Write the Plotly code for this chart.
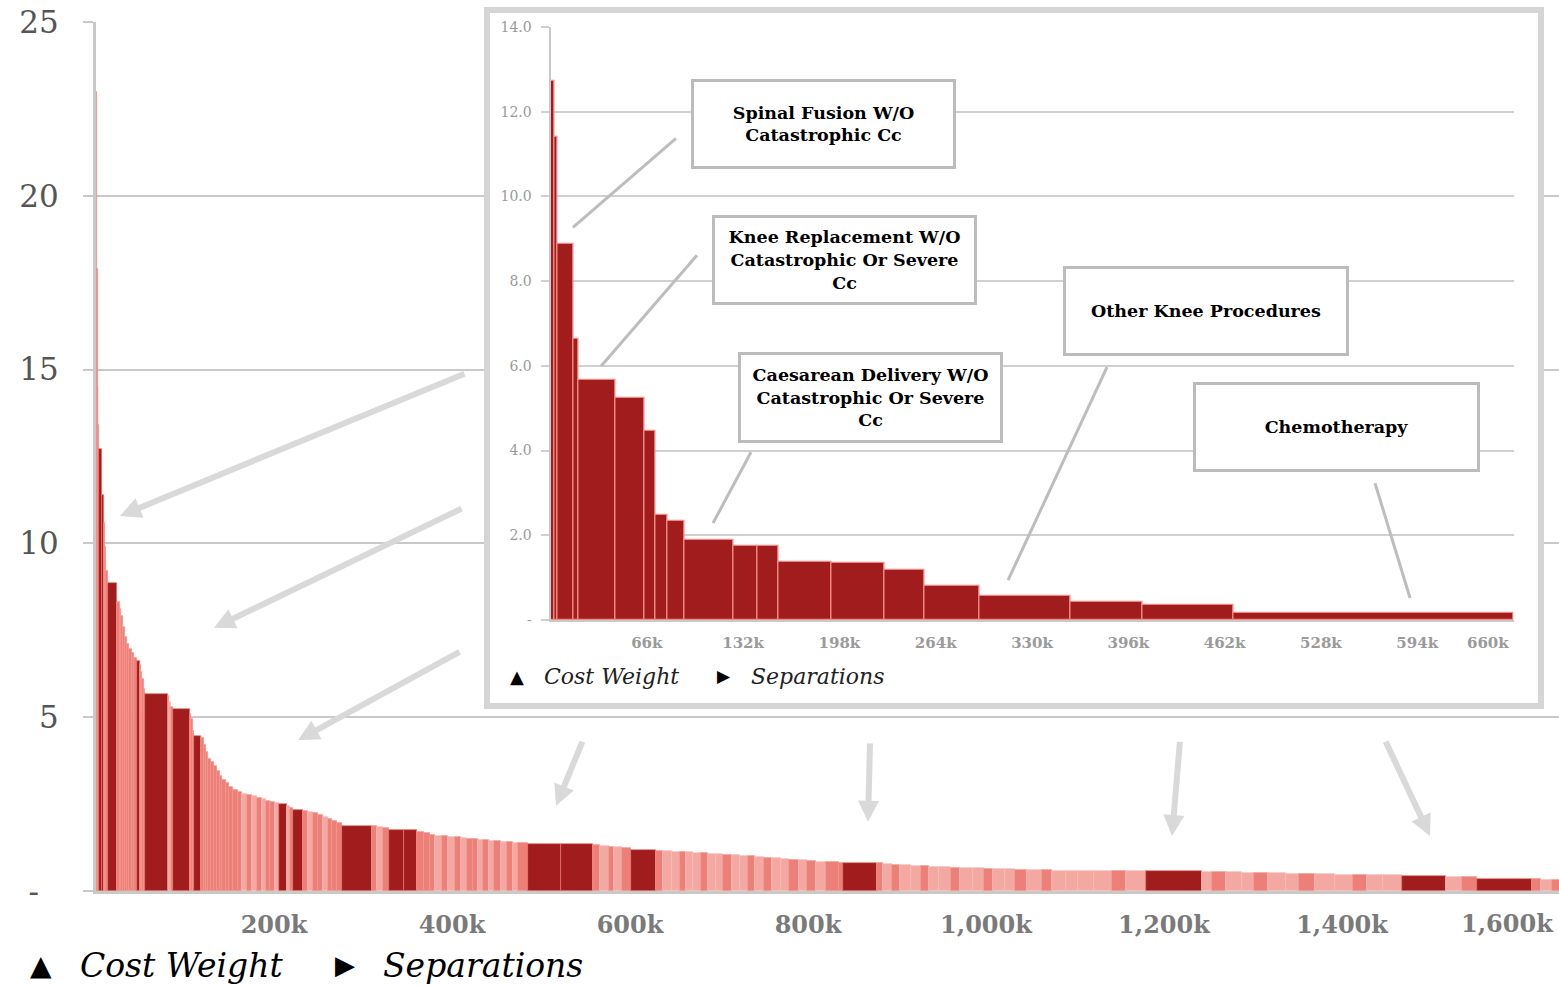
import numpy as np
import plotly.graph_objects as go

# ---------------- DATA ----------------
# DRGs sorted by cost weight; separations in thousands; group: H = highlighted, S = salmon, P = pink
main_cost_weight = [
    23.0, 17.9, 14.5, 13.4, 12.72, 11.4, 10.6, 9.9, 9.2, 8.87,
    8.3, 8.1, 7.9, 7.6, 7.3, 7.1, 6.95, 6.85, 6.7, 6.63,
    6.5, 6.3, 6.1, 5.8, 5.66,
    5.6, 5.45, 5.3, 5.25,
    5.1, 4.95, 4.6, 4.47,
    4.4, 4.2, 4.0, 3.8, 3.7, 3.6, 3.45, 3.3, 3.2, 3.1, 3.0, 2.92, 2.85, 2.8, 2.76, 2.72, 2.68, 2.64, 2.6, 2.56, 2.53,
    2.49,
    2.45, 2.4, 2.34,
    2.3, 2.27, 2.24, 2.2, 2.14, 2.08, 2.02, 1.96, 1.88,
    1.87, 1.85, 1.8, 1.75, 1.75,
    1.7, 1.66, 1.62, 1.58, 1.57, 1.55, 1.54, 1.52, 1.5, 1.49, 1.47, 1.46, 1.44, 1.43, 1.42, 1.4, 1.39, 1.38,
    1.36, 1.34,
    1.32, 1.3, 1.28, 1.26, 1.23, 1.18,
    1.15, 1.14, 1.13, 1.12, 1.11, 1.1, 1.08, 1.07, 1.06, 1.05, 1.03, 1.01, 1.0, 0.98, 0.96, 0.94, 0.92, 0.9, 0.88, 0.86, 0.84, 0.83, 0.82,
    0.81,
    0.8, 0.77, 0.75, 0.74, 0.73, 0.71, 0.7, 0.69, 0.67, 0.66, 0.65, 0.64, 0.63, 0.62, 0.61, 0.6, 0.59, 0.585, 0.58, 0.58, 0.575, 0.575, 0.57,
    0.57,
    0.55, 0.545, 0.54, 0.53, 0.52, 0.51, 0.5, 0.49, 0.48, 0.47, 0.46, 0.455, 0.45,
    0.43,
    0.41, 0.4, 0.35,
    0.34, 0.33, 0.32, 0.3, 0.28, 0.25, 0.2, 0.17,
]
main_separations_k = [
    0.8, 0.9, 0.9, 0.9, 3.0, 2.1, 1.5, 1.5, 1.5, 10.8,
    2.5, 2.0, 1.8, 2.0, 2.2, 2.5, 3.0, 2.8, 3.0, 3.3,
    1.6, 1.5, 1.5, 1.5, 25.5,
    1.8, 2.0, 1.8, 19.5,
    1.5, 1.7, 1.5, 7.6,
    3.0, 2.5, 2.5, 3.0, 3.5, 3.5, 3.0, 3.0, 3.5, 4.0, 4.5, 5.0, 5.0, 6.0, 5.0, 5.5, 6.0, 4.5, 5.0, 5.6, 4.0,
    8.7,
    3.5, 3.9, 11.3,
    5.0, 6.0, 5.0, 6.0, 5.5, 5.0, 5.6, 5.0, 33.5,
    6.0, 7.0, 7.0, 16.5, 14.2,
    8, 7, 6, 8, 6, 8, 7, 6, 7, 6, 5, 7, 6, 8, 6, 7, 6.4, 11,
    36.6, 36.1,
    8, 10, 6, 9, 9.7, 27.6,
    8, 10, 9, 7, 8, 9, 8, 9, 8, 10, 9, 9, 8, 10, 9, 10, 9, 11, 9, 10, 12, 14, 5,
    37.8,
    7, 10, 9, 12, 11, 9, 12, 13, 10, 15, 12, 10, 14, 11, 14, 16, 12, 15, 14, 18, 20, 16, 22.3,
    62.4,
    12, 15, 18, 14, 16, 20, 15, 18, 22, 20, 16, 18, 21.2,
    49.5,
    18, 16.4, 62.2,
    10, 12, 14, 15, 20, 30, 40, 191.6,
]
main_group = [
    "S", "S", "S", "S", "H", "H", "S", "S", "S", "H",
    "S", "S", "S", "S", "S", "S", "S", "S", "S", "H",
    "S", "S", "S", "S", "H",
    "S", "P", "S", "H",
    "S", "S", "S", "H",
    "S", "S", "S", "S", "S", "S", "S", "S", "S", "S", "S", "S", "S", "P", "S", "P", "S", "P", "S", "S", "P",
    "H",
    "P", "S", "H",
    "S", "P", "S", "S", "P", "S", "S", "S", "H",
    "S", "P", "S", "H", "H",
    "S", "S", "S", "P", "S", "P", "S", "P", "S", "S", "P", "S", "P", "S", "P", "S", "P", "S",
    "H", "H",
    "S", "P", "S", "P", "S", "H",
    "S", "P", "P", "S", "P", "P", "S", "P", "P", "S", "P", "P", "S", "P", "S", "P", "P", "S", "P", "S", "P", "S", "S",
    "H",
    "S", "P", "S", "P", "P", "S", "P", "P", "S", "P", "P", "S", "P", "P", "S", "P", "S", "P", "P", "P", "P", "S", "P",
    "H",
    "P", "S", "P", "P", "S", "P", "P", "S", "P", "P", "S", "P", "P",
    "H",
    "P", "S", "H",
    "S", "P", "S", "P", "S", "P", "S", "H",
]

NB = "\u00a0"
main_tick_vals = [200, 400, 600, 800, 1000, 1200, 1400, 1600]
main_tick_text = ["200k", "400k", "600k", "800k", "1,000k", "1,200k", "1,400k", "1,600k"]
main_y_vals = [0, 5, 10, 15, 20, 25]
main_y_text = ["-" + NB * 2, "5", "10", "15", "20", "25"]

inset_tick_vals = [66, 132, 198, 264, 330, 396, 462, 528, 594, 660]
inset_tick_text = ["66k", "132k", "198k", "264k", "330k", "396k", "462k", "528k", "594k", "660k"]
inset_y_vals = [0, 2, 4, 6, 8, 10, 12, 14]
inset_y_text = ["-", "2.0", "4.0", "6.0", "8.0", "10.0", "12.0", "14.0"]

callout_labels = [
    "Spinal Fusion W/O<br>Catastrophic Cc",
    "Knee Replacement W/O<br>Catastrophic Or Severe<br>Cc",
    "Caesarean Delivery W/O<br>Catastrophic Or Severe<br>Cc",
    "Other Knee Procedures",
    "Chemotherapy",
]

# ---------------- STYLE ----------------
DARK = "#a11d1d"
SALMON = "#ec8078"
PINK = "#f4a8a2"
GRID = "#c9c9c9"
SERIF = "DejaVu Serif"
color_map = {"H": DARK, "S": SALMON, "P": PINK}
edge_map = {"H": "#e9756d", "S": "#f0938b", "P": "#f7bdb8"}
MAIN_TICK_FONT = dict(family=SERIF, size=24, color="#7a7a7a", weight="bold")
INSET_TICK_FONT = dict(family=SERIF, size=15, color="#9a9a9a", weight="bold")

W, H = 1559, 986
ML, MR, MT, MB = 96, 0, 8, 95
PW, PH = W - ML - MR, H - MT - MB


def px_x(px):
    return (px - ML) / PW


def px_y(py):
    return (H - MB - py) / PH


cw = np.array(main_cost_weight)
sep = np.array(main_separations_k)
grp = np.array(main_group)
left = np.concatenate([[0], np.cumsum(sep)[:-1]])
centers = left + sep / 2

hl = grp == "H"
in_cw = cw[hl]
in_sep = sep[hl]
in_left = np.concatenate([[0], np.cumsum(in_sep)[:-1]])
in_centers = in_left + in_sep / 2

fig = go.Figure()

# main bars
fig.add_trace(go.Bar(
    x=centers, y=cw, width=sep,
    marker=dict(color=[color_map[g] for g in grp],
                line=dict(color=[edge_map[g] for g in grp], width=0.7)),
    xaxis="x", yaxis="y", hoverinfo="skip", showlegend=False,
))
# main tick triangles
fig.add_trace(go.Scatter(
    x=main_tick_vals, y=[-0.05] * len(main_tick_vals), mode="markers",
    marker=dict(symbol="triangle-up", size=10, color="#7f7f7f"),
    cliponaxis=False, xaxis="x", yaxis="y", hoverinfo="skip", showlegend=False,
))
# frame subplot (empty)
fig.add_trace(go.Scatter(x=[], y=[], xaxis="x2", yaxis="y2", showlegend=False))
# inset bars
fig.add_trace(go.Bar(
    x=in_centers, y=in_cw, width=in_sep,
    marker=dict(color=DARK, line=dict(color="#f08a84", width=1.3)),
    xaxis="x3", yaxis="y3", hoverinfo="skip", showlegend=False,
))
fig.add_trace(go.Scatter(
    x=inset_tick_vals, y=[-0.05] * len(inset_tick_vals), mode="markers",
    marker=dict(symbol="triangle-up", size=7, color="#8a8a8a"),
    cliponaxis=False, xaxis="x3", yaxis="y3", hoverinfo="skip", showlegend=False,
))

main_ydom = [0, px_y(22)]
inset_xdom = [px_x(550.5), px_x(1513.5)]
inset_ydom = [px_y(620), px_y(27)]
frame_xdom = [px_x(490), px_x(1538)]
frame_ydom = [px_y(703), px_y(13)]

fig.update_layout(
    width=W, height=H,
    margin=dict(l=ML, r=MR, t=MT, b=MB, autoexpand=False),
    paper_bgcolor="white", plot_bgcolor="white",
    bargap=0, barmode="overlay",
    showlegend=False,
    xaxis=dict(
        domain=[0, 1], range=[0, 1643.8], anchor="y", automargin=False,
        tickvals=main_tick_vals[:-1], ticktext=main_tick_text[:-1],
        tickfont=MAIN_TICK_FONT,
        showgrid=False, zeroline=False, showline=True, linecolor=GRID, linewidth=3,
        ticks="", ticklabelstandoff=10,
    ),
    yaxis=dict(
        domain=main_ydom, range=[0, 25], anchor="x", automargin=False,
        tickvals=main_y_vals, ticktext=main_y_text,
        tickfont=dict(family=SERIF, size=31, color="#555555"),
        showgrid=True, gridcolor=GRID, gridwidth=2, zeroline=False,
        showline=True, linecolor=GRID, linewidth=3,
        ticks="outside", ticklen=10, tickwidth=2, tickcolor=GRID, ticklabelstandoff=18,
    ),
    xaxis2=dict(
        domain=frame_xdom, range=[0, 1], anchor="y2", automargin=False,
        showline=True, mirror=True, linecolor="#d5d5d5", linewidth=6,
        showgrid=False, zeroline=False, showticklabels=False, ticks="",
    ),
    yaxis2=dict(
        domain=frame_ydom, range=[0, 1], anchor="x2", automargin=False,
        showline=True, mirror=True, linecolor="#d5d5d5", linewidth=6,
        showgrid=False, zeroline=False, showticklabels=False, ticks="",
    ),
    xaxis3=dict(
        domain=inset_xdom, range=[0, 660], anchor="y3", automargin=False,
        tickvals=inset_tick_vals[:-1], ticktext=inset_tick_text[:-1],
        tickfont=INSET_TICK_FONT,
        showgrid=False, zeroline=False, showline=True, linecolor=GRID, linewidth=2,
        ticks="", ticklabelstandoff=8,
    ),
    yaxis3=dict(
        domain=inset_ydom, range=[0, 14], anchor="x3", automargin=False,
        tickvals=inset_y_vals, ticktext=inset_y_text,
        tickfont=dict(family=SERIF, size=14, color="#9a9a9a"),
        showgrid=True, gridcolor="#d0d0d0", gridwidth=1.5, zeroline=False,
        showline=True, linecolor=GRID, linewidth=2,
        ticks="outside", ticklen=8, tickwidth=1.5, tickcolor="#d0d0d0", ticklabelstandoff=6,
    ),
)

annotations = []
shapes = []

# last tick labels (shifted left so they stay inside their frames)
annotations.append(dict(
    x=main_tick_vals[-1], y=px_y(924), xref="x", yref="paper", text=main_tick_text[-1],
    showarrow=False, font=MAIN_TICK_FONT, xanchor="center", yanchor="middle", xshift=-13,
))
annotations.append(dict(
    x=inset_tick_vals[-1], y=px_y(643), xref="x3", yref="paper", text=inset_tick_text[-1],
    showarrow=False, font=INSET_TICK_FONT, xanchor="center", yanchor="middle", xshift=-26,
))

# inset callout boxes (positions in inset data coords: k separations, cost weight)
box_pos = [(187.4, 11.70), (201.8, 8.49), (219.0, 5.26), (449.3, 7.29), (538.4, 4.55)]
box_size = [(259, 84), (259, 84), (259, 85), (280, 84), (281, 84)]
for label, (bx, by), (bw, bh) in zip(callout_labels, box_pos, box_size):
    annotations.append(dict(
        x=bx, y=by, xref="x3", yref="y3", text="<b>" + label + "</b>", showarrow=False,
        font=dict(family=SERIF, size=17.5, color="black"),
        bgcolor="white", bordercolor="#bcbcbc", borderwidth=3, borderpad=0,
        width=bw, height=bh, align="center", valign="middle",
    ))

# leader lines
leaders = [
    ((86.0, 11.37), (15.4, 9.27)),
    ((100.4, 8.61), (34.6, 5.99)),
    ((137.4, 3.96), (111.4, 2.29)),
    ((381.4, 5.97), (313.6, 0.94)),
    ((565.1, 3.23), (589.1, 0.52)),
]
for (x0, y0), (x1, y1) in leaders:
    shapes.append(dict(type="line", xref="x3", yref="y3", x0=x0, y0=y0, x1=x1, y1=y1,
                       line=dict(color="#bdbdbd", width=3)))

# big arrows on main chart: (head, tail) in main data coords
arrows = [
    ((27, 10.79), (415.7, 14.9)),
    ((132.6, 7.57), (412.4, 11.02)),
    ((227, 4.34), (410.1, 6.9)),
    ((516.9, 2.45), (547.2, 4.34)),
    ((867.4, 1.99), (869.7, 4.29)),
    ((1209, 1.58), (1218, 4.34)),
    ((1498.9, 1.58), (1448.3, 4.34)),
]
for (hx, hy), (tx, ty) in arrows:
    annotations.append(dict(
        x=hx, y=hy, ax=tx, ay=ty, xref="x", yref="y", axref="x", ayref="y",
        text="", showarrow=True, arrowhead=2, arrowsize=0.7, arrowwidth=6,
        arrowcolor="#d9d9d9", standoff=0, startstandoff=0,
    ))

# legends (main)
leg_y = px_y(965)
annotations += [
    dict(x=px_x(41), y=leg_y, xref="paper", yref="paper", text="▲", showarrow=False,
         font=dict(family="DejaVu Sans", size=28, color="black"), xanchor="center", yanchor="middle"),
    dict(x=px_x(78), y=leg_y, xref="paper", yref="paper", text="<i>Cost Weight</i>", showarrow=False,
         font=dict(family=SERIF, size=33, color="black"), xanchor="left", yanchor="middle"),
    dict(x=px_x(345), y=leg_y, xref="paper", yref="paper", text="▶", showarrow=False,
         font=dict(family="DejaVu Sans", size=26, color="black"), xanchor="center", yanchor="middle"),
    dict(x=px_x(381), y=leg_y, xref="paper", yref="paper", text="<i>Separations</i>", showarrow=False,
         font=dict(family=SERIF, size=33, color="black"), xanchor="left", yanchor="middle"),
]
# legends (inset)
il_y = px_y(676)
annotations += [
    dict(x=px_x(517), y=il_y, xref="paper", yref="paper", text="▲", showarrow=False,
         font=dict(family="DejaVu Sans", size=18, color="black"), xanchor="center", yanchor="middle"),
    dict(x=px_x(542), y=il_y, xref="paper", yref="paper", text="<i>Cost Weight</i>", showarrow=False,
         font=dict(family=SERIF, size=22, color="#222222"), xanchor="left", yanchor="middle"),
    dict(x=px_x(724), y=il_y, xref="paper", yref="paper", text="▶", showarrow=False,
         font=dict(family="DejaVu Sans", size=17, color="black"), xanchor="center", yanchor="middle"),
    dict(x=px_x(749), y=il_y, xref="paper", yref="paper", text="<i>Separations</i>", showarrow=False,
         font=dict(family=SERIF, size=22, color="#222222"), xanchor="left", yanchor="middle"),
]

fig.update_layout(annotations=annotations, shapes=shapes)

fig.write_html("out.html", config={"displayModeBar": False},
               post_script="document.body.style.margin='0';")
